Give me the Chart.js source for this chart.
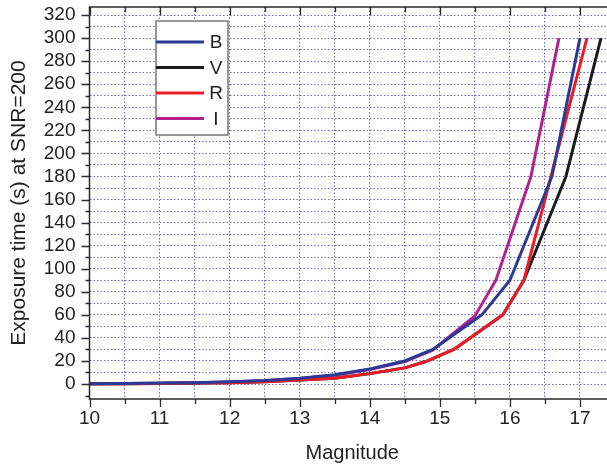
<!DOCTYPE html>
<html>
<head>
<meta charset="utf-8">
<script src="https://cdn.jsdelivr.net/npm/chart.js@4/dist/chart.umd.min.js"></script>
<style>
  html, body { margin: 0; padding: 0; background: #fff; overflow: hidden; }
  #wrap { width: 607px; height: 468px; overflow: hidden; }
  canvas { display: block; }
</style>
</head>
<body>
<div id="wrap"><canvas id="c" width="625" height="468"></canvas></div>
<script>
// Exposure time needed to reach SNR = 200, per photometric band
const seriesNames = ['B', 'V', 'R', 'I'];
const seriesColors = ['#2b3a94', '#1c1c1c', '#ec1c27', '#b3218f'];

const magB = [10, 10.5, 11, 11.5, 12, 12.5, 13, 13.5, 14, 14.5, 14.9, 15.6, 16, 16.6, 17];
const timeB = [0.3, 0.5, 0.8, 1.2, 2, 3, 5, 8, 13, 20, 30, 60, 90, 180, 300];

const magV = [10, 10.5, 11, 11.5, 12, 12.5, 13, 13.5, 14, 14.5, 14.8, 15.2, 15.9, 16.2, 16.8, 17.3];
const timeV = [0.2, 0.3, 0.5, 0.8, 1.2, 2, 3.5, 5, 9, 14, 19.5, 30, 60, 90, 180, 300];

const magR = [10, 10.5, 11, 11.5, 12, 12.5, 13, 13.5, 14, 14.5, 14.8, 15.2, 15.9, 16.2, 17.1];
const timeR = [0.2, 0.3, 0.5, 0.8, 1.2, 2, 3.5, 5, 9, 14, 19.5, 30, 60, 90, 300];

const magI = [10, 10.5, 11, 11.5, 12, 12.5, 13, 13.5, 14, 14.5, 14.9, 15.5, 15.8, 16.3, 16.7];
const timeI = [0.2, 0.4, 0.7, 1.1, 1.8, 2.8, 4.7, 7.6, 12.5, 19.5, 29.5, 59, 90, 180, 300];

// Axis ticks: labelled majors and unlabelled minors
const xTickValues = [10, 10.5, 11, 11.5, 12, 12.5, 13, 13.5, 14, 14.5, 15, 15.5, 16, 16.5, 17, 17.5];
const xTickLabels = ['10', '', '11', '', '12', '', '13', '', '14', '', '15', '', '16', '', '17', ''];
const yTickValues = [0, 10, 20, 30, 40, 50, 60, 70, 80, 90, 100, 110, 120, 130, 140, 150, 160,
  170, 180, 190, 200, 210, 220, 230, 240, 250, 260, 270, 280, 290, 300, 310, 320];
const yTickLabels = yTickValues.map(v => (v % 20 === 0 ? String(v) : ''));

const mags = [magB, magV, magR, magI];
const times = [timeB, timeV, timeR, timeI];
const drawOrder = [0, 2, 1, 3]; // B on top, then R, V, I underneath

const FONT = '"Liberation Sans", Arial, Helvetica, sans-serif';
const GRID = 'rgba(55,55,170,0.75)';

const datasets = seriesNames.map((name, k) => ({
  label: name,
  data: mags[k].map((m, i) => ({ x: m, y: times[k][i] })),
  borderColor: seriesColors[k],
  backgroundColor: seriesColors[k],
  borderWidth: 3,
  pointRadius: 0,
  tension: 0,
  order: drawOrder[k],
  borderJoinStyle: 'round',
  borderCapStyle: 'butt'
}));

// Frame, tick marks and the boxed legend
const framePlugin = {
  id: 'frame',
  afterDraw(chart) {
    const ctx = chart.ctx;
    const a = chart.chartArea;
    const xs = chart.scales.x, ys = chart.scales.y;
    ctx.save();
    ctx.strokeStyle = '#2a2a2a';
    ctx.lineWidth = 1.5;
    ctx.beginPath();
    ctx.rect(a.left, a.top, a.right - a.left, a.bottom - a.top);
    ctx.stroke();

    ctx.lineWidth = 1.3;
    ctx.beginPath();
    yTickValues.forEach((v, i) => {
      const p = Math.round(ys.getPixelForValue(v)) + 0.5;
      const len = yTickLabels[i] ? 8 : 4;
      ctx.moveTo(a.left - len, p); ctx.lineTo(a.left, p);
      ctx.moveTo(a.right, p); ctx.lineTo(a.right - len, p);
    });
    [-10].forEach(v => {
      const p = Math.round(ys.getPixelForValue(v)) + 0.5;
      ctx.moveTo(a.left - 4, p); ctx.lineTo(a.left, p);
    });
    xTickValues.forEach((v, i) => {
      const p = Math.round(xs.getPixelForValue(v)) + 0.5;
      const len = xTickLabels[i] ? 8 : 5;
      ctx.moveTo(p, a.bottom); ctx.lineTo(p, a.bottom + len);
      ctx.moveTo(p, a.top); ctx.lineTo(p, a.top + len);
    });
    ctx.stroke();

    // legend
    const bx = 156, by = 21, bw = 72, bh = 114;
    ctx.fillStyle = '#fff';
    ctx.fillRect(bx, by, bw, bh);
    ctx.strokeStyle = '#777';
    ctx.lineWidth = 1.5;
    ctx.strokeRect(bx, by, bw, bh);
    ctx.font = '19px ' + FONT;
    ctx.textBaseline = 'middle';
    ctx.textAlign = 'center';
    seriesNames.forEach((name, k) => {
      const yy = by + 21 + k * 25.5;
      ctx.strokeStyle = seriesColors[k];
      ctx.lineWidth = 3;
      ctx.beginPath();
      ctx.moveTo(bx, yy); ctx.lineTo(bx + 48, yy);
      ctx.stroke();
      ctx.fillStyle = '#222';
      ctx.fillText(name, bx + 60, yy + 1);
    });
    ctx.restore();
  }
};

const noEdgePadding = s => {
  s.paddingTop = 0; s.paddingBottom = 0; s.paddingLeft = 0; s.paddingRight = 0;
};

new Chart(document.getElementById('c'), {
  type: 'line',
  data: { datasets },
  options: {
    responsive: false,
    animation: false,
    devicePixelRatio: 1,
    layout: { padding: { left: 0, right: 10, top: 7, bottom: 0 } },
    plugins: { legend: { display: false }, tooltip: { enabled: false } },
    scales: {
      x: {
        type: 'linear',
        min: 10,
        max: 17.5,
        afterBuildTicks: s => { s.ticks = xTickValues.map(v => ({ value: v })); },
        afterFit: s => { s.height = 69; noEdgePadding(s); },
        ticks: {
          autoSkip: false,
          maxRotation: 0,
          padding: 8,
          color: '#222',
          font: { family: FONT, size: 19 },
          callback: (v, i) => xTickLabels[i]
        },
        grid: { color: GRID, lineWidth: 1, drawTicks: false },
        border: { display: false, dash: [1.5, 2] },
        title: {
          display: true,
          text: 'Magnitude',
          color: '#222',
          font: { family: FONT, size: 20 },
          padding: { top: 0, bottom: 3 }
        }
      },
      y: {
        type: 'linear',
        min: -13,
        max: 327,
        afterBuildTicks: s => { s.ticks = yTickValues.map(v => ({ value: v })); },
        afterFit: s => { s.width = 89.5; noEdgePadding(s); },
        ticks: {
          autoSkip: false,
          padding: 14,
          color: '#222',
          font: { family: FONT, size: 19 },
          callback: (v, i) => yTickLabels[i]
        },
        grid: { color: GRID, lineWidth: 1, drawTicks: false },
        border: { display: false, dash: [1.5, 2] },
        title: {
          display: true,
          text: 'Exposure time (s) at SNR=200',
          color: '#222',
          font: { family: FONT, size: 21 },
          padding: { top: 7, bottom: 0 }
        }
      }
    }
  },
  plugins: [framePlugin]
});
</script>
</body>
</html>
